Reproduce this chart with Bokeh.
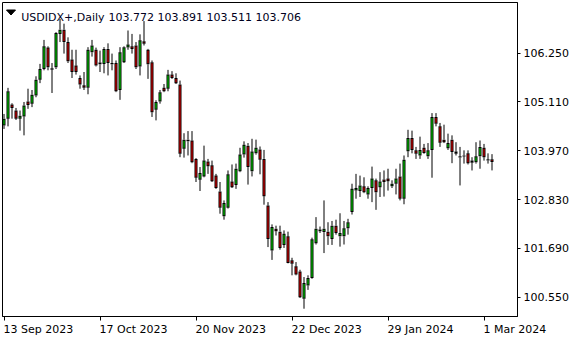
import pandas as pd
from bokeh.plotting import figure
from bokeh.models import (Range1d, FixedTicker, Label, NumeralTickFormatter, ColumnDataSource,
                          LinearAxis, CustomJSTickFormatter)
from bokeh.embed import file_html
from bokeh.resources import INLINE
from bokeh.core.properties import value

symbol = "USDIDX+,Daily"
start_date = "2023-09-13"
end_date = "2024-03-05"
holidays = ["2023-12-25", "2024-01-01"]

opens = [104.56, 104.72, 105.05, 104.91, 104.72, 104.77, 105.12, 105.07, 105.26, 105.63,
         105.88, 106.38, 105.90, 105.92, 106.70, 106.80, 106.51, 106.10, 105.96, 105.67,
         105.50, 105.44, 106.27, 106.33, 106.03, 106.00, 106.35, 106.02, 106.02, 105.39,
         106.04, 106.38, 106.41, 106.43, 105.94, 106.53, 106.33, 106.04, 104.93, 105.12,
         105.44, 105.42, 105.75, 105.67, 105.52, 104.02, 104.23, 104.21, 103.78, 103.29,
         103.37, 103.72, 103.63, 103.39, 103.02, 102.44, 102.64, 103.25, 103.17, 103.49,
         103.88, 104.09, 103.49, 103.91, 104.00, 103.78, 102.69, 101.64, 102.15, 102.08,
         101.77, 101.97, 101.41, 101.27, 101.15, 100.51, 100.82, 101.00, 101.81, 102.13,
         102.07, 102.08, 101.91, 102.22, 101.97, 101.97, 102.16, 102.54, 103.04, 103.03,
         103.14, 102.95, 103.10, 103.28, 103.12, 103.30, 103.32, 103.14, 103.20, 103.37,
         102.85, 103.96, 104.27, 103.98, 103.86, 104.04, 103.84, 103.99, 104.76, 104.54,
         104.23, 104.03, 104.23, 103.95, 103.84, 103.84, 103.91, 103.69, 103.70, 103.84,
         104.04, 103.77, 103.772]
highs = [104.83, 105.44, 105.08, 104.97, 104.91, 105.11, 105.42, 105.39, 105.71, 106.00,
         106.56, 106.41, 106.02, 106.74, 107.05, 106.94, 106.62, 106.33, 106.33, 105.73,
         105.81, 106.39, 106.56, 106.38, 106.31, 106.39, 106.48, 106.24, 106.08, 106.39,
         106.41, 106.78, 106.70, 106.51, 106.69, 107.00, 106.35, 106.08, 105.15, 105.39,
         105.53, 105.86, 105.83, 105.78, 105.61, 104.38, 104.43, 104.43, 103.80, 103.59,
         104.09, 103.78, 103.74, 103.43, 103.24, 102.81, 103.51, 103.65, 103.67, 104.04,
         104.19, 104.15, 104.25, 104.23, 104.07, 103.99, 102.77, 102.25, 102.22, 102.22,
         102.11, 102.08, 101.47, 101.37, 101.19, 101.02, 101.06, 101.94, 102.42, 102.20,
         102.81, 102.30, 102.33, 102.36, 102.51, 102.33, 102.38, 103.20, 103.43, 103.39,
         103.35, 103.14, 103.60, 103.32, 103.47, 103.51, 103.55, 103.28, 103.55, 103.67,
         103.86, 104.46, 104.44, 104.06, 104.30, 104.13, 104.15, 104.85, 104.85, 104.62,
         104.58, 104.37, 104.33, 104.17, 104.06, 103.98, 103.98, 103.82, 104.17, 104.21,
         104.13, 103.91, 103.891]
lows = [104.48, 104.54, 104.72, 104.69, 104.44, 104.33, 104.95, 104.99, 105.22, 105.55,
        105.85, 105.85, 105.32, 105.88, 106.51, 106.24, 106.02, 105.67, 105.75, 105.42,
        105.39, 105.29, 106.17, 105.94, 105.81, 105.78, 105.73, 105.85, 105.34, 105.16,
        106.02, 106.33, 106.24, 105.88, 105.73, 106.43, 105.65, 104.76, 104.68, 105.07,
        105.34, 105.36, 105.65, 105.53, 103.82, 103.81, 103.86, 103.68, 103.24, 103.03,
        103.35, 103.43, 103.24, 103.08, 102.50, 102.36, 102.62, 103.10, 103.08, 103.47,
        103.81, 103.18, 103.37, 103.88, 103.42, 102.71, 101.72, 101.42, 101.99, 101.66,
        101.70, 101.34, 101.06, 101.06, 100.53, 100.28, 100.72, 100.98, 101.78, 102.05,
        101.58, 101.77, 101.77, 102.01, 101.73, 101.78, 102.01, 102.48, 102.85, 102.89,
        102.98, 102.85, 102.77, 102.59, 102.89, 102.90, 103.04, 103.10, 102.95, 102.81,
        102.72, 103.82, 103.91, 103.78, 103.78, 103.90, 103.78, 103.34, 104.54, 104.06,
        104.15, 103.99, 103.68, 103.86, 103.16, 103.67, 103.65, 103.51, 103.67, 103.55,
        103.74, 103.67, 103.511]
closes = [104.72, 105.36, 104.97, 104.72, 104.79, 105.03, 105.04, 105.28, 105.63, 105.88,
          106.41, 105.92, 105.86, 106.72, 106.80, 106.51, 106.06, 105.81, 105.81, 105.52,
          105.44, 106.33, 106.43, 105.96, 105.99, 106.35, 106.02, 105.99, 105.36, 106.27,
          106.39, 106.45, 106.35, 105.92, 106.55, 106.47, 105.99, 104.87, 105.11, 105.34,
          105.36, 105.75, 105.67, 105.55, 103.90, 104.23, 104.19, 103.70, 103.34, 103.45,
          103.74, 103.61, 103.26, 103.10, 102.64, 102.75, 103.42, 103.12, 103.55, 103.88,
          104.11, 103.59, 103.95, 104.04, 103.76, 102.91, 101.91, 102.19, 102.09, 101.70,
          102.03, 101.35, 101.33, 101.08, 100.55, 100.88, 101.00, 101.90, 102.15, 102.09,
          102.15, 101.97, 102.22, 102.05, 102.05, 102.16, 102.30, 103.08, 103.10, 103.16,
          103.00, 103.10, 103.32, 103.00, 103.25, 103.24, 103.26, 103.20, 103.32, 102.85,
          103.76, 104.27, 103.99, 103.90, 103.99, 103.92, 103.98, 104.76, 104.60, 104.16,
          104.17, 104.15, 103.94, 103.90, 103.81, 103.86, 103.68, 103.74, 103.84, 104.06,
          103.82, 103.74, 103.706]

price_ticks = [106.25, 105.11, 103.97, 102.83, 101.69, 100.55]
date_ticks = ["2023-09-13", "2023-10-17", "2023-11-20", "2023-12-22", "2024-01-29", "2024-03-01"]
date_tick_labels = ["13 Sep 2023", "17 Oct 2023", "20 Nov 2023", "22 Dec 2023", "29 Jan 2024", "1 Mar 2024"]

UP_COLOR = "#00f000"
DOWN_COLOR = "#ff0000"
FONT = "DejaVu Sans"
FONT_PX = 11

dates = [d.strftime("%Y-%m-%d") for d in pd.bdate_range(start_date, end_date)
         if d.strftime("%Y-%m-%d") not in holidays]
n = min(len(dates), len(opens))
xs = list(range(n))

# pixel geometry of the frame
W, H = 580, 340
FL, FT, FR, FB = 2, 2, 517, 316
PX_PER_BAR = 4.0
x0 = -0.375
x1 = x0 + (FR - FL) / PX_PER_BAR
y_top = 107.434
y_bot = 100.098
PX_Y = (y_top - y_bot) / (FB - FT)   # price units per pixel

def px_to_x(px):
    return x0 + (px - FL) / PX_PER_BAR

def py_to_y(py):
    return y_top - (py - FT) * PX_Y

# candle bodies: black 3px box with 1px coloured core
btop, bbot, ctop, cbot, ccol = [], [], [], [], []
for o, c in zip(opens[:n], closes[:n]):
    hi, lo = max(o, c), min(o, c)
    if hi - lo < PX_Y:
        mid = (hi + lo) / 2
        hi, lo = mid + PX_Y / 2, mid - PX_Y / 2
    btop.append(hi)
    bbot.append(lo)
    if hi - lo > 2.2 * PX_Y:
        ctop.append(hi - PX_Y)
        cbot.append(lo + PX_Y)
    else:
        ctop.append(hi)
        cbot.append(hi)
    ccol.append(UP_COLOR if c >= o else DOWN_COLOR)

src = ColumnDataSource(dict(
    x=xs, high=highs[:n], low=lows[:n],
    btop=btop, bbot=bbot, ctop=ctop, cbot=cbot, color=ccol,
))

p = figure(width=W, height=H, output_backend="svg", toolbar_location=None,
           x_range=Range1d(x0, x1), y_range=Range1d(y_bot, y_top),
           y_axis_location="right", title=None,
           min_border_left=FL, min_border_top=FT,
           min_border_right=W - FR, min_border_bottom=H - FB,
           background_fill_color="white", border_fill_color="white",
           outline_line_color="black", outline_line_width=1)
p.grid.visible = False

blank = CustomJSTickFormatter(code="return '';")

# bottom axis: tick marks only
tick_idx = [dates.index(d) for d in date_ticks if d in dates]
xa = p.xaxis[0]
xa.ticker = FixedTicker(ticks=tick_idx)
xa.formatter = blank
xa.major_tick_out = 4
xa.major_tick_in = 0
xa.minor_tick_out = 0
xa.minor_tick_in = 0
xa.axis_line_color = "black"
xa.major_tick_line_color = "black"
xa.major_label_text_font_size = f"{FONT_PX}px"
xa.major_label_standoff = 0

# second bottom axis: labels, placed so that each label starts at its tick
char_w = {" ": 0.318, ".": 0.318, "S": 0.635, "e": 0.615, "p": 0.635, "O": 0.787,
          "c": 0.550, "t": 0.392, "N": 0.748, "o": 0.612, "v": 0.592, "D": 0.770,
          "J": 0.295, "a": 0.613, "n": 0.634, "M": 0.863, "r": 0.411}
def text_w(s):
    return sum(char_w.get(ch, 0.636) for ch in s) * FONT_PX

label_pos = [i + (text_w(lab) / 2 - 0.5) / PX_PER_BAR for i, lab in zip(tick_idx, date_tick_labels)]
xa2 = LinearAxis(ticker=FixedTicker(ticks=label_pos),
                 formatter=CustomJSTickFormatter(args=dict(pos=label_pos, labels=date_tick_labels), code="""
                     for (let i = 0; i < pos.length; i++) {
                         if (Math.abs(pos[i] - tick) < 1e-6) return labels[i];
                     }
                     return "";
                 """))
xa2.axis_line_color = None
xa2.major_tick_line_color = None
xa2.minor_tick_line_color = None
xa2.major_tick_out = 0
xa2.major_tick_in = 0
xa2.major_label_standoff = 2
xa2.major_label_text_font = FONT
xa2.major_label_text_font_size = f"{FONT_PX}px"
xa2.major_label_text_color = "black"
p.add_layout(xa2, "below")

ya = p.yaxis[0]
ya.ticker = FixedTicker(ticks=price_ticks)
ya.formatter = NumeralTickFormatter(format="0.000")
ya.major_tick_out = 3
ya.major_tick_in = 0
ya.minor_tick_out = 0
ya.minor_tick_in = 0
ya.axis_line_color = "black"
ya.major_tick_line_color = "black"
ya.major_label_text_font = FONT
ya.major_label_text_font_size = f"{FONT_PX}px"
ya.major_label_text_color = "black"
ya.major_label_standoff = 3

# wicks split above/below the body, then black body, then coloured core
p.segment(x0="x", y0="btop", x1="x", y1="high", source=src, line_color="black", line_width=1)
p.segment(x0="x", y0="low", x1="x", y1="bbot", source=src, line_color="black", line_width=1)
p.vbar(x="x", width=3 / PX_PER_BAR, top="btop", bottom="bbot", source=src,
       fill_color="black", line_color=None)
p.vbar(x="x", width=1 / PX_PER_BAR, top="ctop", bottom="cbot", source=src,
       fill_color="color", line_color=None)

# header
p.patch(x=[px_to_x(6), px_to_x(15), px_to_x(10.5)],
        y=[py_to_y(9.5), py_to_y(9.5), py_to_y(14.5)], color="black")
p.text(x=[px_to_x(20.7)], y=[py_to_y(16.7)], text=[symbol],
       text_font=value(FONT), text_font_size=f"{FONT_PX}px", text_color="#000020",
       text_baseline="alphabetic", text_align="left")
ohlc = " ".join(f"{v:.3f}" for v in (opens[n - 1], highs[n - 1], lows[n - 1], closes[n - 1]))
p.text(x=[px_to_x(108)], y=[py_to_y(16.7)], text=[ohlc],
       text_font=value(FONT), text_font_size=f"{FONT_PX}px", text_color="#000020",
       text_baseline="alphabetic", text_align="left")

# current price tag
p.add_layout(Label(x=px_to_x(523.3), y=closes[n - 1], text=f"{closes[n - 1]:.3f}",
                   text_align="left", text_baseline="middle",
                   text_font=FONT, text_font_size=f"{FONT_PX}px", text_color="white",
                   background_fill_color="black", padding=(0, 5)))

open("out.html", "w").write(file_html(p, INLINE))
